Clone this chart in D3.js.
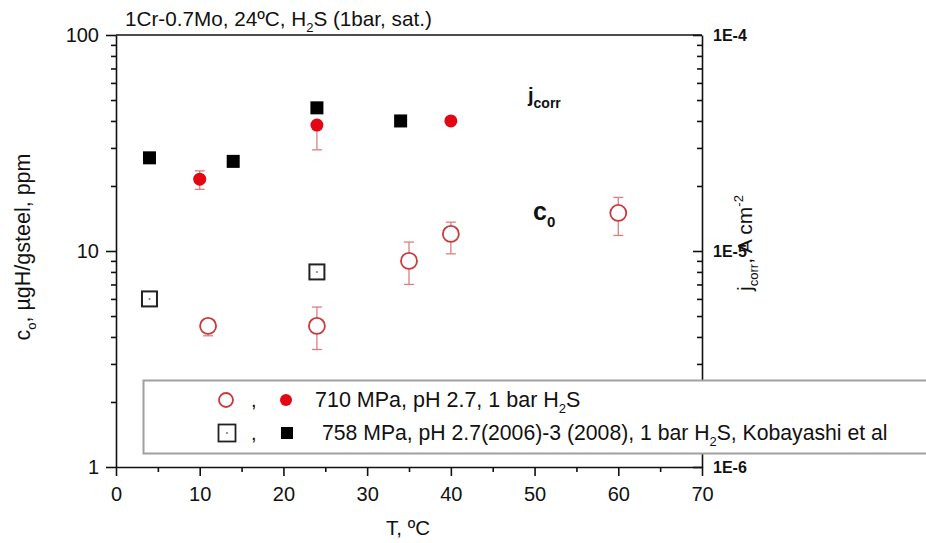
<!DOCTYPE html>
<html><head><meta charset="utf-8">
<script src="https://cdn.jsdelivr.net/npm/d3@7"></script>
<style>
body{margin:0;background:#fff}
text{font-family:"Liberation Sans",Arial,sans-serif;fill:#111}
</style>
</head><body>
<svg id="chart" width="926" height="543"></svg>
<script>
// ---------- data ----------
const xTicks = [0, 10, 20, 30, 40, 50, 60, 70];
const xMinorTicks = [5, 15, 25, 35, 45, 55, 65];
const yLeftTicks = [1, 10, 100];
const yLeftTickLabels = ["1", "10", "100"];
const yRightTicks = [1e-6, 1e-5, 1e-4];
const yRightTickLabels = ["1E-6", "1E-5", "1E-4"];

// c0, this work (open red circles)
const c0T   = [11, 24, 35, 40, 60];
const c0Val = [4.5, 4.5, 9, 12, 15];
const c0Lo  = [4.05, 3.5, 7, 9.7, 11.8];
const c0Hi  = [4.85, 5.5, 11, 13.6, 17.7];

// jcorr, this work (filled red circles)
const jT   = [10, 24, 40];
const jVal = [2.15e-5, 3.83e-5, 4.0e-5];
const jLo  = [1.93e-5, 2.94e-5, 4.0e-5];
const jHi  = [2.35e-5, 3.83e-5, 4.0e-5];

// Kobayashi et al: jcorr (filled squares), c0 (open squares)
const kjT   = [4, 14, 24, 34];
const kjVal = [2.7e-5, 2.6e-5, 4.6e-5, 4.0e-5];
const kcT   = [4, 24];
const kcVal = [6, 8];

const legendRows = [
  ["710 MPa, pH 2.7, 1 bar H", "2", "S"],
  ["758 MPa, pH 2.7(2006)-3 (2008), 1 bar H", "2", "S, Kobayashi et al"]
];

// ---------- setup ----------
const svg = d3.select("#chart");
const L = 116, R = 702, T = 35, B = 467;
const x = d3.scaleLinear().domain([0, 70]).range([L, R]);
const yL = d3.scaleLog().domain([1, 100]).range([B, T]);
const yR = d3.scaleLog().domain([1e-6, 1e-4]).range([B, T]);

const RED_OPEN = "#c93a3c", RED_FILL = "#e30613", ERR = "#d98080";

function minorLog(lo, hi) {
  const out = [];
  for (let d = lo; d < hi; d *= 10) for (let k = 2; k <= 9; k++) out.push(d * k);
  return out;
}
function styleAxis(g, fs) {
  g.selectAll("path,line").attr("stroke", "#111").attr("stroke-width", 1.6);
  g.selectAll("text").attr("font-size", fs).attr("fill", "#111")
    .style("font-family", '"Liberation Sans",Arial,sans-serif');
}

// ---------- axes ----------
svg.append("line").attr("x1", L).attr("x2", R).attr("y1", T).attr("y2", T)
  .attr("stroke", "#111").attr("stroke-width", 1.6);

const gLm = svg.append("g").attr("transform", `translate(${L},0)`)
  .call(d3.axisLeft(yL).tickValues(minorLog(1, 100)).tickSize(5).tickFormat(""));
gLm.select(".domain").remove();
styleAxis(gLm, 0);
const gL = svg.append("g").attr("transform", `translate(${L},0)`)
  .call(d3.axisLeft(yL).tickValues(yLeftTicks).tickSizeInner(10).tickSizeOuter(0).tickPadding(7)
    .tickFormat((d, i) => yLeftTickLabels[i]));
styleAxis(gL, 20);

const gRm = svg.append("g").attr("transform", `translate(${R},0)`)
  .call(d3.axisRight(yR).tickValues(minorLog(1e-6, 1e-4)).tickSize(-5).tickFormat(""));
gRm.select(".domain").remove();
styleAxis(gRm, 0);
const gR = svg.append("g").attr("transform", `translate(${R},0)`)
  .call(d3.axisRight(yR).tickValues(yRightTicks).tickSizeInner(-9).tickSizeOuter(0).tickPadding(11)
    .tickFormat((d, i) => yRightTickLabels[i]));
styleAxis(gR, 16);
gR.selectAll("text").attr("font-weight", "bold");

const gBm = svg.append("g").attr("transform", `translate(0,${B})`)
  .call(d3.axisBottom(x).tickValues(xMinorTicks).tickSize(5).tickFormat(""));
gBm.select(".domain").remove();
styleAxis(gBm, 0);
const gB = svg.append("g").attr("transform", `translate(0,${B})`)
  .call(d3.axisBottom(x).tickValues(xTicks).tickSizeInner(9).tickSizeOuter(0).tickPadding(11)
    .tickFormat(d3.format("d")));
styleAxis(gB, 20);

// ---------- text helpers ----------
function richText(g, parts, base) {
  const t = g.append("text").attr("font-size", base);
  let shift = 0;
  parts.forEach(([s, kind, fs]) => {
    const target = kind === "sub" ? (fs ? fs * 0.45 : base * 0.3) :
                   kind === "sup" ? -base * 0.45 : 0;
    const sp = t.append("tspan").text(s).attr("dy", target - shift);
    if (kind !== "n") sp.attr("font-size", fs || Math.round(base * 0.62));
    shift = target;
  });
  return t;
}

richText(svg.append("g").attr("transform", "translate(125,26)"),
  [["1Cr-0.7Mo, 24ºC, H", "n"], ["2", "sub"], ["S (1bar, sat.)", "n"]], 20.7);

richText(svg.append("g").attr("transform", "translate(30,247) rotate(-90)"),
  [["c", "n"], ["o", "sub"], [", µgH/gsteel, ppm", "n"]], 21.5)
  .attr("text-anchor", "middle");

richText(svg.append("g").attr("transform", "translate(752,243) rotate(-90)"),
  [["j", "n"], ["corr", "sub"], [", A cm", "n"], ["-2", "sup"]], 21)
  .attr("text-anchor", "middle");

svg.append("text").attr("x", 408).attr("y", 535).attr("text-anchor", "middle")
  .attr("font-size", 20.5).text("T, ºC");

richText(svg.append("g").attr("transform", "translate(528,102)"),
  [["j", "n"], ["corr", "sub", 14]], 20).attr("font-weight", "bold");
richText(svg.append("g").attr("transform", "translate(533,220)"),
  [["c", "n"], ["0", "sub", 15]], 25).attr("font-weight", "bold");

// ---------- data marks ----------
const marks = svg.append("g");
function errBars(T_, lo, hi, scale) {
  T_.forEach((t, i) => {
    if (lo[i] === hi[i]) return;
    const cx = x(t), y1 = scale(lo[i]), y2 = scale(hi[i]);
    marks.append("line").attr("x1", cx).attr("x2", cx).attr("y1", y1).attr("y2", y2)
      .attr("stroke", ERR).attr("stroke-width", 1.3);
    [y1, y2].forEach(yy => marks.append("line").attr("x1", cx - 5).attr("x2", cx + 5)
      .attr("y1", yy).attr("y2", yy).attr("stroke", ERR).attr("stroke-width", 1.3));
  });
}
errBars(c0T, c0Lo, c0Hi, yL);
errBars(jT, jLo, jHi, yR);

marks.selectAll(".oc").data(c0T).join("circle")
  .attr("cx", d => x(d)).attr("cy", (d, i) => yL(c0Val[i])).attr("r", 8)
  .attr("fill", "#fff").attr("stroke", RED_OPEN).attr("stroke-width", 1.8);
marks.selectAll(".fc").data(jT).join("circle")
  .attr("cx", d => x(d)).attr("cy", (d, i) => yR(jVal[i])).attr("r", 6.5)
  .attr("fill", RED_FILL);
marks.selectAll(".fs").data(kjT).join("rect")
  .attr("x", d => x(d) - 6.5).attr("y", (d, i) => yR(kjVal[i]) - 6.5)
  .attr("width", 13).attr("height", 13).attr("fill", "#000");
marks.selectAll(".os").data(kcT).join("rect")
  .attr("x", d => x(d) - 7.5).attr("y", (d, i) => yL(kcVal[i]) - 7.5)
  .attr("width", 15).attr("height", 15).attr("fill", "#fff")
  .attr("stroke", "#222").attr("stroke-width", 2);
marks.selectAll(".osd").data(kcT).join("circle")
  .attr("cx", d => x(d)).attr("cy", (d, i) => yL(kcVal[i])).attr("r", 1)
  .attr("fill", "#777");

// ---------- legend ----------
const lg = svg.append("g");
lg.append("rect").attr("x", 143.5).attr("y", 380.5).attr("width", 820).attr("height", 73)
  .attr("fill", "#fff").attr("stroke", "#a0a0a0").attr("stroke-width", 2);
lg.append("circle").attr("cx", 226).attr("cy", 400).attr("r", 7)
  .attr("fill", "#fff").attr("stroke", RED_OPEN).attr("stroke-width", 1.8);
lg.append("text").attr("x", 251).attr("y", 407).attr("font-size", 20).text(",");
lg.append("circle").attr("cx", 286).attr("cy", 400).attr("r", 6).attr("fill", RED_FILL);
richText(lg.append("g").attr("transform", "translate(315,407)"),
  [[legendRows[0][0], "n"], [legendRows[0][1], "sub"], [legendRows[0][2], "n"]], 21.5);
lg.append("rect").attr("x", 227 - 8.5).attr("y", 433 - 8.5).attr("width", 17).attr("height", 17)
  .attr("fill", "#fff").attr("stroke", "#222").attr("stroke-width", 1.8);
lg.append("circle").attr("cx", 227).attr("cy", 433).attr("r", 1).attr("fill", "#777");
lg.append("text").attr("x", 251).attr("y", 440).attr("font-size", 20).text(",");
lg.append("rect").attr("x", 281).attr("y", 427).attr("width", 12).attr("height", 12).attr("fill", "#000");
richText(lg.append("g").attr("transform", "translate(322,440)"),
  [[legendRows[1][0], "n"], [legendRows[1][1], "sub"], [legendRows[1][2], "n"]], 21.2);
</script>
</body></html>
